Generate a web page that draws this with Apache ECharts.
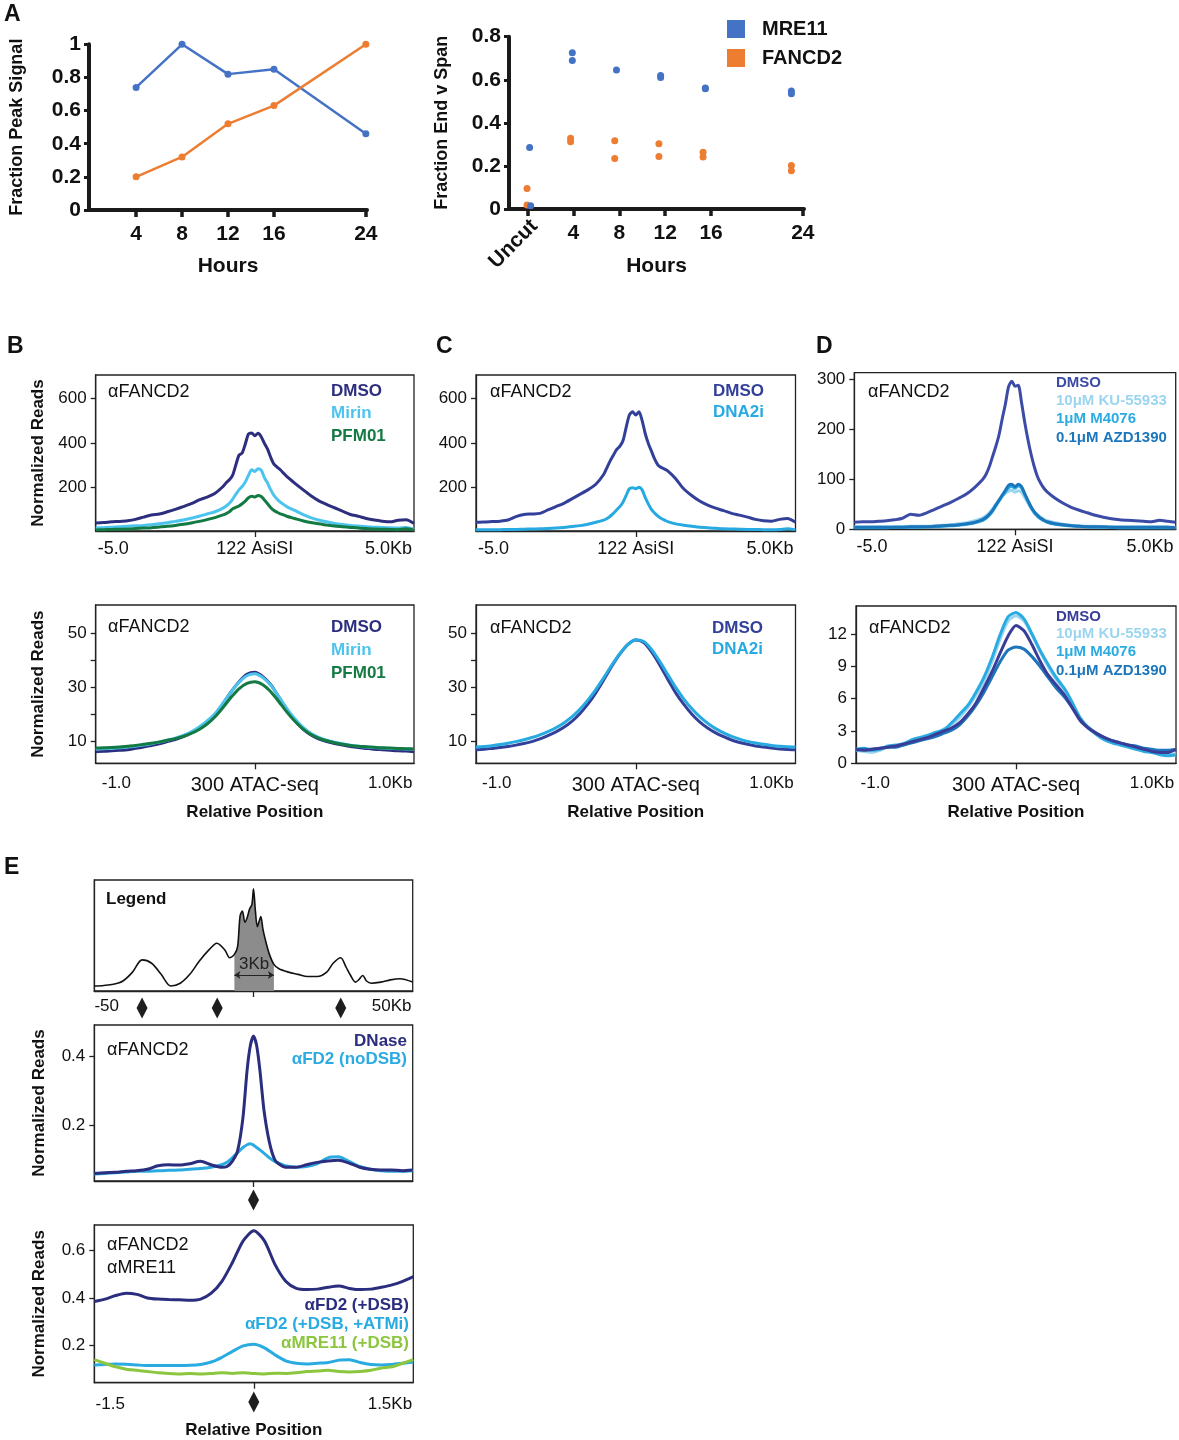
<!DOCTYPE html>
<html><head><meta charset="utf-8">
<script src="https://cdn.jsdelivr.net/npm/echarts@6/dist/echarts.min.js"></script>
<style>html,body{margin:0;padding:0;background:#fff}#c{width:1179px;height:1440px}</style>
</head><body><div id="c"></div>
<script>
// ---------------- DATA ----------------
// Panel A (left): fraction peak signal
const hoursA = [4, 8, 12, 16, 24];
const peakMRE11 = [0.74, 1.0, 0.82, 0.85, 0.46];
const peakFANCD2 = [0.20, 0.32, 0.52, 0.63, 1.0];
const hourTicks = [4, 8, 12, 16, 24];
// Panel A (right): fraction end v span
const spanMreX = [0.18, 0.27, 3.9, 3.9, 7.75, 11.6, 11.6, 15.5, 15.5, 23.0, 23.0];
const spanMreY = [0.286, 0.015, 0.726, 0.69, 0.645, 0.62, 0.611, 0.562, 0.558, 0.548, 0.535];
const spanFanX = [-0.05, -0.05, 3.75, 3.75, 7.6, 7.6, 11.45, 11.45, 15.3, 15.3, 23.0, 23.0];
const spanFanY = [0.095, 0.018, 0.328, 0.312, 0.317, 0.235, 0.303, 0.244, 0.264, 0.241, 0.202, 0.178];

// AsiSI profiles (kb)
const xAsi = [-5,-4.75,-4.5,-4.25,-4,-3.75,-3.5,-3.25,-3,-2.75,-2.5,-2.25,-2,-1.75,-1.5,-1.25,-1,
  -0.9,-0.8,-0.7,-0.6,-0.5,-0.4,-0.3,-0.2,-0.1,0,0.1,0.2,0.3,0.4,0.5,0.6,0.7,0.8,0.9,
  1,1.25,1.5,1.75,2,2.25,2.5,2.75,3,3.25,3.5,3.75,4,4.25,4.5,4.75,5];
const bAsiDMSO = [42,44,47,49,52,58,68,78,82,92,103,115,128,145,158,175,205,
  222,235,255,300,345,355,395,440,445,432,443,428,398,372,335,305,292,280,265,
  250,220,192,165,142,125,110,95,80,72,62,55,50,47,54,56,40];
const bAsiMirin = [20,21,23,25,27,29,31,34,38,43,49,55,63,72,82,92,108,
  118,130,148,170,190,205,225,255,280,272,285,278,245,220,190,165,148,135,125,
  115,98,80,66,55,47,40,35,31,28,25,23,22,20,19,22,14];
const bAsiPFM01 = [11,12,13,14,15,17,19,21,24,27,31,36,42,49,57,66,78,
  84,92,105,112,118,128,140,155,162,158,165,160,145,128,110,98,90,83,78,
  72,62,52,44,38,33,28,25,22,19,17,15,14,13,12,16,10];
const cAsiDMSO = [45,46,48,50,55,70,80,82,85,100,115,130,150,170,190,215,260,
  290,320,345,370,385,410,470,525,540,525,540,500,440,395,360,325,300,290,283,
  275,240,195,165,140,122,108,97,85,77,68,58,52,50,58,62,45];
const cAsiDNA2i = [12,12,12,12,13,13,14,15,16,17,19,22,26,30,36,45,55,
  62,72,85,100,115,135,165,195,200,195,202,190,155,125,100,85,72,62,55,
  48,38,32,27,23,20,18,16,15,14,13,13,12,12,13,16,11];
const dAsiDMSO = [14,15,15,16,17,19,22,30,28,33,40,47,54,62,71,84,100,
  110,125,145,165,188,220,250,285,296,286,288,255,215,180,150,125,105,92,82,
  75,62,52,44,38,33,28,24,21,19,18,17,16,15,18,16,14];
const dAsiKU = [5,5,5,5,5,5,5,6,6,6,7,8,9,11,13,17,23,
  27,33,41,50,58,66,72,76,78,74,77,74,64,53,43,35,29,24,20,
  17,13,10,8,7,6,6,5,5,5,5,5,5,5,5,5,4];
const dAsiM4076 = [3,3,3,3,3,4,4,4,4,5,5,6,7,8,10,13,18,
  22,28,36,46,56,66,75,83,86,82,87,83,70,56,43,33,26,21,17,
  14,10,8,7,6,5,4,4,4,3,3,3,3,3,3,3,3];
const dAsiAZD = [4,4,4,4,4,4,4,5,5,5,6,7,8,9,11,14,20,
  24,30,38,48,58,68,78,88,90,85,90,86,72,58,45,35,28,22,18,
  15,11,9,7,6,5,5,5,4,4,4,4,4,4,4,4,3];

// ATAC-seq profiles (kb)
const xAtac = [-1,-0.95,-0.9,-0.85,-0.8,-0.75,-0.7,-0.65,-0.6,-0.55,-0.5,-0.45,-0.4,-0.35,-0.3,-0.25,-0.2,-0.15,-0.1,-0.05,
  0,0.05,0.1,0.15,0.2,0.25,0.3,0.35,0.4,0.45,0.5,0.55,0.6,0.65,0.7,0.75,0.8,0.85,0.9,0.95,1];
const bAtacDMSO = [6.3,6.4,6.6,6.8,7.0,7.5,8.0,8.6,9.2,10.0,10.8,11.8,13.2,15.0,17.2,20.0,24.0,28.3,32.0,34.8,
  35.6,34.0,31.0,26.5,22.0,18.0,14.8,12.5,11.0,10.0,9.3,8.7,8.2,7.8,7.5,7.2,7.0,6.8,6.6,6.5,6.3];
const bAtacMirin = [7.3,7.4,7.5,7.7,8.0,8.3,8.7,9.2,9.8,10.5,11.3,12.3,13.6,15.4,17.6,20.4,24.2,28.3,31.8,34.3,
  35.0,33.6,30.8,26.6,22.3,18.5,15.4,13.1,11.6,10.5,9.8,9.2,8.7,8.3,8.0,7.8,7.6,7.5,7.4,7.3,7.2];
const bAtacPFM01 = [7.6,7.7,7.8,8.0,8.3,8.6,9.0,9.4,9.9,10.5,11.1,11.9,13.0,14.5,16.5,19.2,22.6,26.3,29.5,31.5,
  32.1,31.0,28.4,24.8,21.0,17.6,14.8,12.7,11.3,10.3,9.6,9.0,8.6,8.3,8.1,7.9,7.7,7.6,7.5,7.4,7.3];
const cAtacDMSO = [7.0,7.2,7.5,7.8,8.2,8.7,9.3,10.0,11.0,12.2,13.6,15.3,17.5,20.3,23.8,28.0,32.8,37.8,42.3,45.8,
  47.5,46.5,43.0,38.3,33.0,28.0,23.8,20.2,17.3,15.0,13.2,11.8,10.6,9.7,9.0,8.4,8.0,7.6,7.3,7.1,7.0];
const cAtacDNA2i = [8.0,8.2,8.5,8.9,9.4,10.0,10.7,11.5,12.5,13.7,15.1,16.9,19.1,21.9,25.3,29.2,33.6,38.2,42.4,45.8,
  47.6,46.9,43.9,39.6,34.8,30.0,25.8,22.2,19.2,16.8,14.8,13.2,11.9,10.9,10.1,9.5,9.0,8.6,8.3,8.1,8.0];
const dAtacDMSO = [1.3,1.2,1.3,1.4,1.5,1.6,1.8,2.0,2.2,2.4,2.7,3.0,3.3,3.8,4.6,5.6,7.0,8.5,10.2,11.8,
  12.8,12.3,11.0,9.5,8.2,7.3,6.4,5.2,4.0,3.3,2.8,2.4,2.1,1.9,1.7,1.5,1.3,1.1,1.0,1.0,1.3];
const dAtacKU = [1.2,1.1,1.0,1.2,1.5,1.6,1.9,2.1,2.3,2.5,2.8,3.2,3.6,4.3,5.2,6.3,7.6,9.4,11.5,13.2,
  13.7,13.2,11.9,10.4,9.0,7.8,6.8,5.6,4.3,3.4,2.8,2.3,2.0,1.8,1.6,1.4,1.2,1.0,0.9,0.8,0.9];
const dAtacM4076 = [1.3,1.4,1.2,1.3,1.6,1.7,1.8,2.2,2.4,2.6,2.9,3.1,3.8,4.6,5.4,6.6,8.0,9.8,11.9,13.6,
  14.0,13.4,12.0,10.5,9.2,8.0,7.0,5.7,4.2,3.3,2.7,2.2,1.9,1.7,1.5,1.3,1.1,1.0,0.8,0.7,0.8];
const dAtacAZD = [1.2,1.3,1.3,1.4,1.5,1.5,1.7,1.9,2.1,2.3,2.5,2.8,3.1,3.6,4.4,5.4,6.6,8.0,9.4,10.5,
  10.8,10.6,9.9,9.0,8.0,7.0,6.2,5.2,4.1,3.3,2.8,2.4,2.1,1.9,1.7,1.6,1.4,1.3,1.2,1.2,1.3];

// Panel E legend schematic (kb)
const xLegend = [-50,-47,-44,-41,-38,-35,-32,-29,-26,-23,-20,-17,-14,-11.5,-9,-7.5,-6,-5,-4.2,-3.5,
  -2.7,-2,-1.2,-0.5,0,0.6,1.2,1.8,2.3,3,4,5,6.4,8,11,14,17,20,23,25,
  27.4,29,30.5,32,33,34.3,35.5,37,40,43,46,50];
const yLegend = [4.5,5,6,9,17,28,25,15,4.5,7,15,27,37,43,37,30,33,40,68,72,
  62,66,74,78,92,72,58,63,67,55,43,33,24,20,17,15,13,13,17,25,
  30,22,14,8,10,14,9,7,8,10,11,8];
const legendShadeRange = [-6, 6.4];
const legendDiamondsX = [-35, -11.4, 27.4];

// Panel E DNase
const xE2 = [-1.5,-1.4,-1.3,-1.2,-1.1,-1.0,-0.9,-0.8,-0.7,-0.6,-0.5,-0.4,-0.3,-0.25,-0.2,-0.15,-0.1,-0.06,-0.03,0,
  0.03,0.06,0.1,0.15,0.2,0.25,0.3,0.4,0.5,0.6,0.7,0.8,0.9,1.0,1.1,1.2,1.3,1.4,1.5];
const eDNase = [0.060,0.062,0.063,0.066,0.068,0.072,0.082,0.085,0.084,0.088,0.095,0.085,0.078,0.080,0.095,0.125,0.22,0.36,0.43,0.458,
  0.43,0.36,0.24,0.15,0.10,0.085,0.078,0.078,0.085,0.092,0.096,0.098,0.09,0.078,0.072,0.07,0.07,0.068,0.07];
const eNoDSB = [0.058,0.060,0.062,0.064,0.066,0.066,0.068,0.069,0.070,0.072,0.074,0.078,0.085,0.092,0.105,0.12,0.135,0.143,0.146,0.142,
  0.135,0.128,0.118,0.105,0.095,0.088,0.082,0.078,0.08,0.088,0.105,0.108,0.095,0.08,0.072,0.068,0.066,0.066,0.068];

// Panel E +DSB
const xE3 = [-1.5,-1.4,-1.3,-1.2,-1.1,-1.0,-0.9,-0.8,-0.7,-0.6,-0.5,-0.4,-0.3,-0.2,-0.1,0,
  0.1,0.2,0.3,0.4,0.5,0.6,0.7,0.8,0.9,1.0,1.1,1.2,1.3,1.4,1.5];
const eFD2DSB = [0.385,0.395,0.41,0.42,0.415,0.40,0.395,0.393,0.392,0.39,0.395,0.42,0.47,0.55,0.64,0.683,
  0.64,0.54,0.47,0.44,0.435,0.437,0.445,0.45,0.44,0.435,0.437,0.445,0.455,0.47,0.49];
const eFD2ATMi = [0.118,0.120,0.122,0.121,0.118,0.115,0.115,0.115,0.115,0.116,0.12,0.13,0.15,0.175,0.198,0.205,
  0.19,0.16,0.135,0.125,0.122,0.125,0.128,0.138,0.14,0.128,0.12,0.118,0.12,0.125,0.13];
const eMRE11DSB = [0.14,0.125,0.11,0.10,0.095,0.09,0.085,0.082,0.08,0.082,0.08,0.082,0.085,0.082,0.085,0.082,
  0.08,0.083,0.082,0.085,0.09,0.092,0.095,0.09,0.088,0.09,0.095,0.105,0.11,0.125,0.14];

// ---------------- BUILD ----------------
const FONT = 'Liberation Sans, Arial, sans-serif';
const FONTCSS = '"Liberation Sans", Arial, sans-serif';
const grids = [], xAxes = [], yAxes = [], series = [], graphics = [];
const pairs = (xs, ys) => xs.map((x, i) => [x, ys[i]]);
function addGrid(r, border) {
  grids.push({left: r[0], top: r[1], width: r[2], height: r[3], show: border, borderColor: '#222', borderWidth: 1.3});
  return grids.length - 1;
}
function labelMap(vals, texts) {
  return v => { for (let i = 0; i < vals.length; i++) if (Math.abs(vals[i] - v) < 1e-9) return texts[i]; return ''; };
}
function boxAxes(g, o) {
  xAxes.push({gridIndex: g, type: 'value', min: o.xMin, max: o.xMax,
    axisLine: {show: true, onZero: false, lineStyle: {color: '#222', width: 1.3}},
    axisTick: {show: o.xTicks.length > 0, customValues: o.xTicks, length: 6, lineStyle: {color: '#222', width: 1.3}},
    axisLabel: {show: o.xLabVals.length > 0, customValues: o.xLabVals, formatter: labelMap(o.xLabVals, o.xLabTexts),
      fontSize: o.xFont || 17, color: '#111', margin: o.xMargin || 9, fontFamily: FONT, rich: o.rich},
    splitLine: {show: false}, name: o.xName || '', nameLocation: 'middle', nameGap: o.xNameGap || 41,
    nameTextStyle: {fontSize: 17, fontWeight: 'bold', color: '#111', fontFamily: FONT}});
  yAxes.push({gridIndex: g, type: 'value', min: o.yMin, max: o.yMax,
    axisLine: {show: true, onZero: false, lineStyle: {color: '#222', width: 1.3}},
    axisTick: {show: o.yTicks.length > 0, customValues: o.yTicks, length: 5, lineStyle: {color: '#222', width: 1.3}},
    axisLabel: {show: o.yLabs.length > 0, customValues: o.yLabs, fontSize: 17, color: '#111', margin: 9, fontFamily: FONT},
    splitLine: {show: false}, name: o.yName || '', nameLocation: 'middle', nameRotate: 90, nameGap: o.yNameGap || 49,
    nameTextStyle: {fontSize: 17, fontWeight: 'bold', color: '#111', fontFamily: FONT}});
  return {xi: xAxes.length - 1, yi: yAxes.length - 1};
}
function addLine(ax, xs, ys, color, width, z, extra) {
  series.push(Object.assign({type: 'line', xAxisIndex: ax.xi, yAxisIndex: ax.yi, data: pairs(xs, ys),
    showSymbol: false, symbol: 'none', smooth: 0.25, lineStyle: {color, width}, itemStyle: {color}, z, silent: true}, extra || {}));
}
function txt(x, y, s, o) {
  o = o || {};
  graphics.push({type: 'text', x, y, silent: true, style: {text: s, fill: o.color || '#111',
    font: (o.bold ? 'bold ' : '') + (o.size || 17) + 'px ' + FONTCSS,
    textAlign: o.align || 'left', align: o.align || 'left', textVerticalAlign: 'middle', verticalAlign: 'middle'}});
}

// ---- Panel A left ----
const gA1 = addGrid([89, 44.3, 278, 165.7], false);
xAxes.push({gridIndex: gA1, type: 'value', min: -0.1, max: 24.1,
  axisLine: {onZero: false, lineStyle: {color: '#1a1a1a', width: 4}},
  axisTick: {customValues: hourTicks, length: 7, lineStyle: {color: '#1a1a1a', width: 3.5}},
  axisLabel: {customValues: hourTicks, fontSize: 21, fontWeight: 'bold', color: '#111', margin: 14, fontFamily: FONT},
  splitLine: {show: false}, name: 'Hours', nameLocation: 'middle', nameGap: 46,
  nameTextStyle: {fontSize: 21, fontWeight: 'bold', color: '#111', fontFamily: FONT}});
yAxes.push({gridIndex: gA1, type: 'value', min: 0, max: 1, interval: 0.2,
  axisLine: {onZero: false, lineStyle: {color: '#1a1a1a', width: 4}},
  axisTick: {length: 5, lineStyle: {color: '#1a1a1a', width: 3}},
  axisLabel: {fontSize: 21, fontWeight: 'bold', color: '#111', margin: 8, fontFamily: FONT},
  splitLine: {show: false}, name: 'Fraction Peak Signal', nameLocation: 'middle', nameRotate: 90, nameGap: 63,
  nameTextStyle: {fontSize: 18, fontWeight: 'bold', color: '#111', fontFamily: FONT}});
const axA1 = {xi: xAxes.length - 1, yi: yAxes.length - 1};
const BLUE = '#4472C4', ORANGE = '#ED7D31';
series.push({type: 'line', name: 'MRE11', xAxisIndex: axA1.xi, yAxisIndex: axA1.yi, data: pairs(hoursA, peakMRE11),
  symbol: 'circle', symbolSize: 7, lineStyle: {color: BLUE, width: 2.5}, itemStyle: {color: BLUE}, silent: true});
series.push({type: 'line', name: 'FANCD2', xAxisIndex: axA1.xi, yAxisIndex: axA1.yi, data: pairs(hoursA, peakFANCD2),
  symbol: 'circle', symbolSize: 7, lineStyle: {color: ORANGE, width: 2.5}, itemStyle: {color: ORANGE}, silent: true});

// ---- Panel A right ----
const gA2 = addGrid([509, 36.7, 295, 172.3], false);
xAxes.push({gridIndex: gA2, type: 'value', min: -1.62, max: 24.1,
  axisLine: {onZero: false, lineStyle: {color: '#1a1a1a', width: 4}},
  axisTick: {customValues: [0].concat(hourTicks), length: 7, lineStyle: {color: '#1a1a1a', width: 3.5}},
  axisLabel: {customValues: hourTicks, fontSize: 21, fontWeight: 'bold', color: '#111', margin: 14, fontFamily: FONT},
  splitLine: {show: false}, name: 'Hours', nameLocation: 'middle', nameGap: 47,
  nameTextStyle: {fontSize: 21, fontWeight: 'bold', color: '#111', fontFamily: FONT}});
const axA2x = xAxes.length - 1;
xAxes.push({gridIndex: gA2, type: 'value', min: -1.62, max: 24.1, position: 'bottom',
  axisLine: {show: false, onZero: false}, axisTick: {show: false}, splitLine: {show: false},
  axisLabel: {customValues: [0.6], formatter: () => 'Uncut', rotate: 45, fontSize: 21, fontWeight: 'bold', color: '#111', margin: 14, fontFamily: FONT}});
yAxes.push({gridIndex: gA2, type: 'value', min: 0, max: 0.8, interval: 0.2,
  axisLine: {onZero: false, lineStyle: {color: '#1a1a1a', width: 4}},
  axisTick: {length: 5, lineStyle: {color: '#1a1a1a', width: 3}},
  axisLabel: {fontSize: 21, fontWeight: 'bold', color: '#111', margin: 8, fontFamily: FONT},
  splitLine: {show: false}, name: 'Fraction End v Span', nameLocation: 'middle', nameRotate: 90, nameGap: 58,
  nameTextStyle: {fontSize: 18, fontWeight: 'bold', color: '#111', fontFamily: FONT}});
const axA2y = yAxes.length - 1;
series.push({type: 'scatter', name: 'FANCD2', xAxisIndex: axA2x, yAxisIndex: axA2y, data: pairs(spanFanX, spanFanY),
  symbolSize: 7, itemStyle: {color: ORANGE, opacity: 1}, silent: true});
series.push({type: 'scatter', name: 'MRE11', xAxisIndex: axA2x, yAxisIndex: axA2y, data: pairs(spanMreX, spanMreY),
  symbolSize: 7, itemStyle: {color: BLUE, opacity: 1}, silent: true});

// ---- Panels B/C/D top (AsiSI) ----
const asiLab = {xMin: -5, xMax: 5, xTicks: [0], xLabVals: [-4.45, 0, 4.2], xLabTexts: ['-5.0', '122 AsiSI', '5.0Kb'], xFont: 18, xMargin: 9};
const axB1 = boxAxes(addGrid([95.7, 375, 318.3, 156], true), Object.assign({}, asiLab,
  {yMin: 6, yMax: 704, yTicks: [200, 400, 600], yLabs: [200, 400, 600], yName: 'Normalized Reads'}));
addLine(axB1, xAsi, bAsiDMSO, '#2D2F7E', 3, 3);
addLine(axB1, xAsi, bAsiMirin, '#4DC4EE', 3, 4);
addLine(axB1, xAsi, bAsiPFM01, '#137A43', 3, 5);

const axC1 = boxAxes(addGrid([476, 375, 319.5, 156], true), Object.assign({}, asiLab,
  {yMin: 6, yMax: 704, yTicks: [200, 400, 600], yLabs: [200, 400, 600]}));
addLine(axC1, xAsi, cAsiDMSO, '#33409A', 3, 3);
addLine(axC1, xAsi, cAsiDNA2i, '#27AAE1', 3, 4);

const axD1 = boxAxes(addGrid([854.3, 372.7, 321.4, 156.6], true), Object.assign({}, asiLab,
  {yMin: 0, yMax: 313, yTicks: [0, 100, 200, 300], yLabs: [0, 100, 200, 300]}));
addLine(axD1, xAsi, dAsiKU, '#9BD5EF', 3, 3);
addLine(axD1, xAsi, dAsiM4076, '#2AACE2', 3, 4);
addLine(axD1, xAsi, dAsiAZD, '#1C76BC', 3, 5);
addLine(axD1, xAsi, dAsiDMSO, '#3B4BA6', 3, 6);

// ---- Panels B/C/D bottom (ATAC) ----
const atacLab = {xMin: -1, xMax: 1, xTicks: [0], xLabVals: [-0.87, 0, 0.85],
  xLabTexts: ['-1.0', '{big|300 ATAC-seq}', '1.0Kb'], xFont: 17, xMargin: 12,
  rich: {big: {fontSize: 20, fontFamily: FONT, color: '#111'}}, xName: 'Relative Position', xNameGap: 41};
const axB2 = boxAxes(addGrid([95.7, 605, 318.3, 158.3], true), Object.assign({}, atacLab,
  {yMin: 2, yMax: 60.4, yTicks: [10, 20, 30, 40, 50], yLabs: [10, 30, 50], yName: 'Normalized Reads'}));
addLine(axB2, xAtac, bAtacDMSO, '#2D2F7E', 3, 3);
addLine(axB2, xAtac, bAtacMirin, '#4DC4EE', 3, 4);
addLine(axB2, xAtac, bAtacPFM01, '#137A43', 3, 5);

const axC2 = boxAxes(addGrid([476, 605, 319.5, 158.3], true), Object.assign({}, atacLab,
  {yMin: 2, yMax: 60.4, yTicks: [10, 20, 30, 40, 50], yLabs: [10, 30, 50]}));
addLine(axC2, xAtac, cAtacDMSO, '#33409A', 3, 3);
addLine(axC2, xAtac, cAtacDNA2i, '#27AAE1', 3, 4);

const axD2 = boxAxes(addGrid([856, 606, 320, 157.3], true), Object.assign({}, atacLab,
  {xLabVals: [-0.88, 0, 0.85], yMin: 0, yMax: 14.6, yTicks: [0, 3, 6, 9, 12], yLabs: [0, 3, 6, 9, 12]}));
addLine(axD2, xAtac, dAtacKU, '#9BD5EF', 3, 3);
addLine(axD2, xAtac, dAtacM4076, '#2AACE2', 3, 4);
addLine(axD2, xAtac, dAtacAZD, '#1C76BC', 3, 5);
addLine(axD2, xAtac, dAtacDMSO, '#3A3D98', 3, 6);

// ---- Panel E legend ----
const axE1 = boxAxes(addGrid([94.3, 880, 318.4, 111], true), {xMin: -50, xMax: 50, xTicks: [0],
  xLabVals: [-46.1, 43.4], xLabTexts: ['-50', '50Kb'], xFont: 17, xMargin: 7,
  yMin: 0, yMax: 100, yTicks: [], yLabs: []});
const shadeX = xLegend.filter(x => x >= legendShadeRange[0] && x <= legendShadeRange[1]);
const shadeY = yLegend.filter((y, i) => xLegend[i] >= legendShadeRange[0] && xLegend[i] <= legendShadeRange[1]);
addLine(axE1, shadeX, shadeY, '#8C8C8C', 0, 2, {smooth: 0.3, areaStyle: {color: '#8C8C8C', opacity: 1},
  markLine: {silent: true, symbol: ['arrow', 'arrow'], symbolSize: 6,
    lineStyle: {color: '#222', width: 1.2, type: 'solid'},
    label: {show: true, position: 'middle', formatter: '3Kb', fontSize: 17, color: '#222', fontFamily: FONT, distance: 2},
    data: [[{coord: [legendShadeRange[0], 14.5]}, {coord: [legendShadeRange[1], 14.5]}]]}});
addLine(axE1, xLegend, yLegend, '#111', 1.6, 3, {smooth: 0.3});
series.push({type: 'scatter', xAxisIndex: axE1.xi, yAxisIndex: axE1.yi, clip: false, symbol: 'diamond', symbolSize: [11, 21],
  itemStyle: {color: '#1e1e1e', opacity: 1}, data: legendDiamondsX.map(x => [x, -15.3]), silent: true});

// ---- Panel E DNase ----
const axE2 = boxAxes(addGrid([94.3, 1025, 318.4, 156], true), {xMin: -1.5, xMax: 1.5, xTicks: [0],
  xLabVals: [], xLabTexts: [], yMin: 0.038, yMax: 0.49, yTicks: [0.2, 0.4], yLabs: [0.2, 0.4],
  yName: 'Normalized Reads', yNameGap: 46});
addLine(axE2, xE2, eNoDSB, '#2CAAE2', 3, 3);
addLine(axE2, xE2, eDNase, '#2B2D7E', 3, 4);
series.push({type: 'scatter', xAxisIndex: axE2.xi, yAxisIndex: axE2.yi, clip: false, symbol: 'diamond', symbolSize: [11, 21],
  itemStyle: {color: '#1e1e1e', opacity: 1}, data: [[0, -0.017]], silent: true});

// ---- Panel E +DSB ----
const axE3 = boxAxes(addGrid([94.3, 1225, 319, 157.7], true), {xMin: -1.5, xMax: 1.5, xTicks: [0],
  xLabVals: [-1.35, 1.28], xLabTexts: ['-1.5', '1.5Kb'], xFont: 17, xMargin: 13,
  xName: 'Relative Position', xNameGap: 39,
  yMin: 0.043, yMax: 0.707, yTicks: [0.2, 0.4, 0.6], yLabs: [0.2, 0.4, 0.6],
  yName: 'Normalized Reads', yNameGap: 46});
addLine(axE3, xE3, eFD2DSB, '#2B2D7E', 3, 3);
addLine(axE3, xE3, eFD2ATMi, '#29ABE2', 3, 4);
addLine(axE3, xE3, eMRE11DSB, '#8CC63F', 3, 5);
series.push({type: 'scatter', xAxisIndex: axE3.xi, yAxisIndex: axE3.yi, clip: false, symbol: 'diamond', symbolSize: [11, 21],
  itemStyle: {color: '#1e1e1e', opacity: 1}, data: [[0, -0.038]], silent: true});

// ---- Texts ----
txt(4, 15, 'A', {bold: true, size: 23});
txt(7, 347, 'B', {bold: true, size: 23});
txt(436, 347, 'C', {bold: true, size: 23});
txt(816, 347, 'D', {bold: true, size: 23});
txt(4, 868, 'E', {bold: true, size: 23});

txt(108, 392, 'αFANCD2', {size: 18});
txt(331, 391, 'DMSO', {bold: true, color: '#2D2F7E'});
txt(331, 413, 'Mirin', {bold: true, color: '#4DC4EE'});
txt(331, 436, 'PFM01', {bold: true, color: '#137A43'});
txt(490, 392, 'αFANCD2', {size: 18});
txt(713, 391, 'DMSO', {bold: true, color: '#33409A'});
txt(713, 412, 'DNA2i', {bold: true, color: '#27AAE1'});
txt(868, 392, 'αFANCD2', {size: 18});
txt(1056, 383, 'DMSO', {bold: true, size: 15, color: '#3B4BA6'});
txt(1056, 401, '10μM KU-55933', {bold: true, size: 15, color: '#9BD5EF'});
txt(1056, 419, '1μM M4076', {bold: true, size: 15, color: '#2AACE2'});
txt(1056, 438, '0.1μM AZD1390', {bold: true, size: 15, color: '#1C76BC'});

txt(108, 627, 'αFANCD2', {size: 18});
txt(331, 627, 'DMSO', {bold: true, color: '#2D2F7E'});
txt(331, 650, 'Mirin', {bold: true, color: '#4DC4EE'});
txt(331, 673, 'PFM01', {bold: true, color: '#137A43'});
txt(490, 628, 'αFANCD2', {size: 18});
txt(712, 628, 'DMSO', {bold: true, color: '#33409A'});
txt(712, 649, 'DNA2i', {bold: true, color: '#27AAE1'});
txt(869, 628, 'αFANCD2', {size: 18});
txt(1056, 617, 'DMSO', {bold: true, size: 15, color: '#3A3D98'});
txt(1056, 634, '10μM KU-55933', {bold: true, size: 15, color: '#9BD5EF'});
txt(1056, 652, '1μM M4076', {bold: true, size: 15, color: '#2AACE2'});
txt(1056, 671, '0.1μM AZD1390', {bold: true, size: 15, color: '#1C76BC'});

txt(106, 899, 'Legend', {bold: true});
txt(107, 1050, 'αFANCD2', {size: 18});
txt(407, 1041, 'DNase', {bold: true, align: 'right', color: '#2B2D7E'});
txt(407, 1059, 'αFD2 (noDSB)', {bold: true, align: 'right', color: '#2CAAE2'});
txt(107, 1245, 'αFANCD2', {size: 18});
txt(107, 1268, 'αMRE11', {size: 18});
txt(409, 1305, 'αFD2 (+DSB)', {bold: true, align: 'right', color: '#2B2D7E'});
txt(409, 1324, 'αFD2 (+DSB, +ATMi)', {bold: true, align: 'right', color: '#29ABE2'});
txt(409, 1343, 'αMRE11 (+DSB)', {bold: true, align: 'right', color: '#8CC63F'});

const chart = echarts.init(document.getElementById('c'), null, {renderer: 'canvas'});
chart.setOption({
  animation: false,
  backgroundColor: '#fff',
  textStyle: {fontFamily: FONT},
  grid: grids, xAxis: xAxes, yAxis: yAxes, series: series, graphic: graphics,
  legend: {left: 722, top: 14, orient: 'vertical', itemWidth: 18, itemHeight: 18, itemGap: 9, icon: 'rect',
    selectedMode: false, data: ['MRE11', 'FANCD2'],
    textStyle: {fontSize: 20, fontWeight: 'bold', color: '#111', fontFamily: FONT, padding: [0, 0, 0, 12]}}
});
</script></body></html>
